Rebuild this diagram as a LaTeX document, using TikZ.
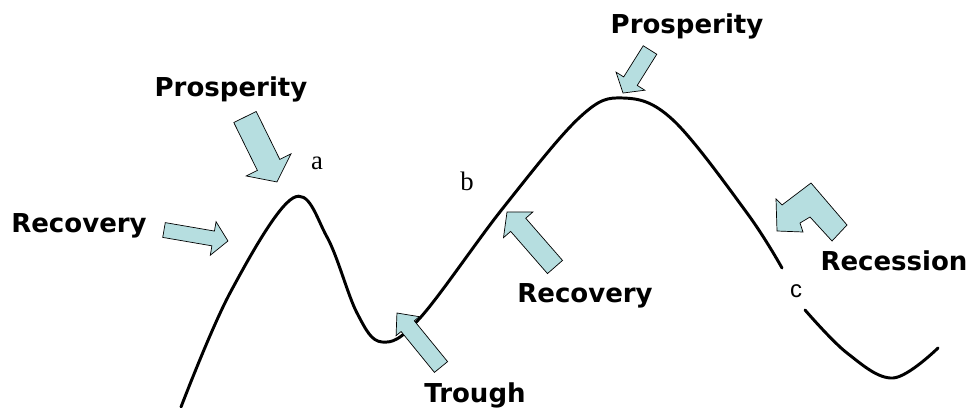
\documentclass[tikz,border=0pt]{standalone}
\usepackage{fontspec}
\setmainfont{DejaVu Sans}
\newfontfamily\letterfont{Liberation Serif}
\newfontfamily\cfont{Liberation Sans}
\usetikzlibrary{positioning}

\definecolor{arrowblue}{RGB}{182,222,224}

% fat block arrow: tail, angle, length, shaft half width, head half width, head length
\newcommand{\fatarrow}[6]{%
  \begin{scope}[shift={#1}, rotate=#2]
    \draw[blockarrow] (0,-#4) -- ({#3-#6},-#4) -- ({#3-#6},-#5) -- (#3,0)
      -- ({#3-#6},#5) -- ({#3-#6},#4) -- (0,#4) -- cycle;
  \end{scope}}

\begin{document}
\begin{tikzpicture}[x=0.025cm, y=-0.025cm,
  blockarrow/.style={fill=arrowblue, draw=black, line width=0.5pt, line join=miter},
  cycleline/.style={line width=2.1pt, line cap=round},
  phase/.style={font=\fontsize{18.5}{20}\selectfont\bfseries, anchor=base, inner sep=0pt},
  point/.style={font=\letterfont\fontsize{19}{21}\selectfont, inner sep=0pt}]
  \useasboundingbox (0,0) rectangle (970,407);
  % business cycle curve
  \draw[cycleline] plot[smooth, tension=0.6] coordinates {
    (181,407) (230,293) (293,198) (327,237) (357,313) (382,342)
    (420,318) (503,208) (580,117) (623,98) (673,120) (747,213) (782,268)};
  \draw[cycleline] plot[smooth, tension=0.6] coordinates {
    (805,310) (847,353) (893,378) (938,348)};
  % arrows
  \fatarrow{(245,117)}{-63.8}{72.4}{12.5}{25}{19}
  \fatarrow{(164,230)}{-9.75}{64.9}{7.5}{17}{15}
  \fatarrow{(441,367)}{129.2}{69.7}{8.5}{15}{17}
  \fatarrow{(555,267)}{131.1}{73.0}{10}{19.5}{17}
  \fatarrow{(650,50)}{-122.1}{50.8}{8}{17}{14}
  % bent arrow at recession
  \draw[blockarrow] (811,183) -- (847,225) -- (832,241) -- (810,217) -- (800,223)
    -- (803,232) -- (777,231) -- (776,199) -- (782,205) -- cycle;
  % phase labels
  \node[phase] (prosp1) at (231,97) {Prosperity};
  \node[phase] (recov1) at (79,232) {Recovery};
  \node[phase] (trough) at (475,402) {Trough};
  \node[phase] (recov2) at (585,302) {Recovery};
  \node[phase] (prosp2) at (687,34) {Prosperity};
  \node[phase] (recess) at (894,270) {Recession};
  % points on the curve
  \node[point] (pa) at (317,163) {a};
  \node[point] (pb) at (467,181) {b};
  \node[point, font=\cfont\fontsize{17}{19}\selectfont] (pc) at (796,291) {c};
\end{tikzpicture}
\end{document}
